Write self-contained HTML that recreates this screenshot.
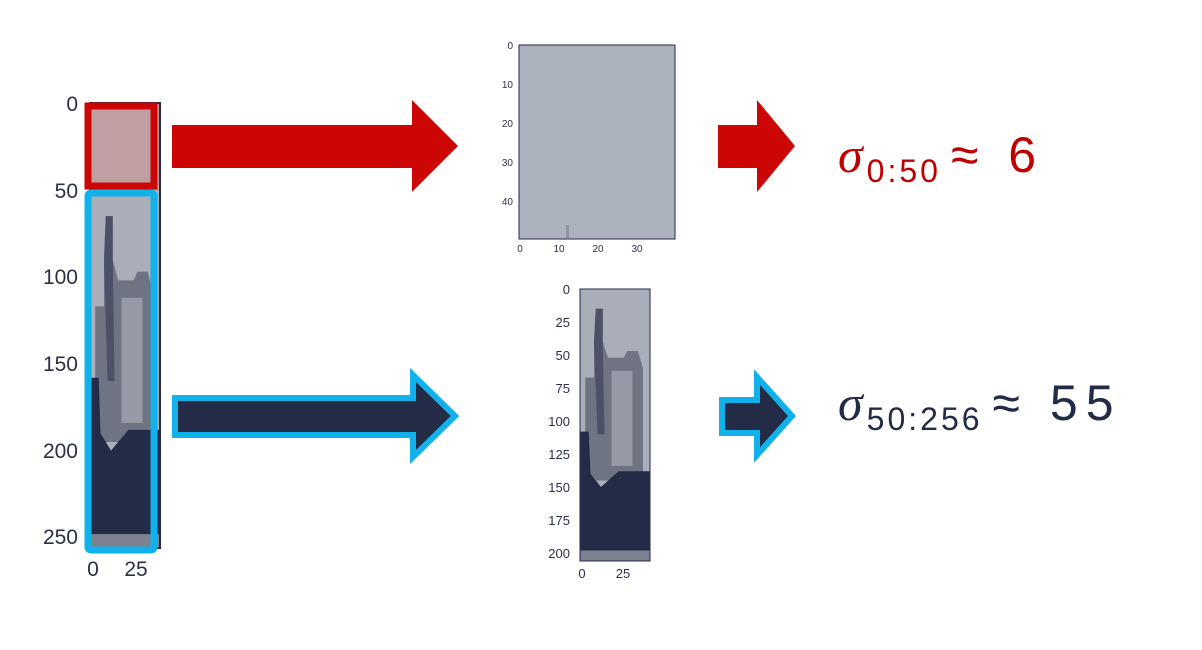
<!DOCTYPE html>
<html><head><meta charset="utf-8"><style>
html,body{margin:0;padding:0;background:#fff;}
svg{display:block;}
text{font-family:"Liberation Sans","DejaVu Sans",sans-serif;}
</style></head><body>
<svg width="1202" height="650" viewBox="0 0 1202 650" xmlns="http://www.w3.org/2000/svg">
<defs>
<g id="bld">
  <rect x="0" y="0" width="40" height="206" fill="#a9aeb9"/>
  <polygon points="3,67 8,67 8,40 9,15 13,15 13,40 16,52 25,52 27,47 33,47 36,60 36,145 3,145" fill="#6f7482"/>
  <rect x="18" y="62" width="12" height="72" fill="#959aa6"/>
  <polygon points="8,40 9,15 13,15 13,40 14,110 10,110" fill="#4b5166"/>
  <polygon points="0,108 5,108 6,140 12,150 22,138 40,138 40,206 0,206" fill="#232b47"/>
  <rect x="0" y="198" width="40" height="8" fill="#7d8290"/>
</g>
</defs>

<g>
  <rect x="90" y="103" width="70" height="87" fill="#c19ea2"/>
  <svg x="90" y="190" width="70" height="358" viewBox="0 0 40 206" preserveAspectRatio="none"><use href="#bld"/></svg>
  <rect x="90" y="103" width="70" height="445" fill="none" stroke="#232b47" stroke-width="2"/>
  <g font-size="21" fill="#2a3048" text-anchor="end">
    <text x="78" y="111">0</text><text x="78" y="198">50</text><text x="78" y="284">100</text>
    <text x="78" y="371">150</text><text x="78" y="458">200</text><text x="78" y="544">250</text>
  </g>
  <g font-size="21" fill="#2a3048" text-anchor="middle">
    <text x="93" y="576">0</text><text x="136" y="576">25</text>
  </g>
  <rect x="88" y="106" width="66" height="80" fill="none" stroke="#cc0505" stroke-width="7"/>
  <rect x="88" y="193" width="66" height="357" rx="3" fill="none" stroke="#11b1ec" stroke-width="7"/>
</g>

<polygon points="172,125 412,125 412,100 458,146 412,192 412,168 172,168" fill="#cc0505"/>
<polygon points="175,398 413,398 413,375 455,416 413,457 413,435 175,435" fill="#232b47" stroke="#11b1ec" stroke-width="6" stroke-linejoin="miter"/>
<polygon points="718,125 757,125 757,100 795,146 757,192 757,168 718,168" fill="#cc0505"/>
<polygon points="722,400 757,400 757,377 792,416 757,455 757,433 722,433" fill="#232b47" stroke="#11b1ec" stroke-width="6"/>

<g>
  <rect x="519" y="45" width="156" height="194" fill="#acb2bd" stroke="#232b47" stroke-width="1"/>
  <g font-size="10" fill="#2a3048" text-anchor="end">
    <text x="513" y="49">0</text><text x="513" y="88">10</text><text x="513" y="127">20</text>
    <text x="513" y="166">30</text><text x="513" y="205">40</text>
  </g>
  <g font-size="10" fill="#2a3048" text-anchor="middle">
    <text x="520" y="252">0</text><text x="559" y="252">10</text><text x="598" y="252">20</text><text x="637" y="252">30</text>
  </g>
  <rect x="566" y="225" width="3" height="13" fill="#8d93a0"/>
</g>

<g>
  <svg x="580" y="289" width="70" height="272" viewBox="0 0 40 206" preserveAspectRatio="none"><use href="#bld"/></svg>
  <rect x="580" y="289" width="70" height="272" fill="none" stroke="#232b47" stroke-width="1"/>
  <g font-size="13" fill="#2a3048" text-anchor="end">
    <text x="570" y="294">0</text><text x="570" y="327">25</text><text x="570" y="360">50</text>
    <text x="570" y="393">75</text><text x="570" y="426">100</text><text x="570" y="459">125</text>
    <text x="570" y="492">150</text><text x="570" y="525">175</text><text x="570" y="558">200</text>
  </g>
  <g font-size="13" fill="#2a3048" text-anchor="middle">
    <text x="582" y="578">0</text><text x="623" y="578">25</text>
  </g>
</g>

<text x="838" y="172" font-size="50" fill="#c00000"><tspan font-style="italic" font-family="'Liberation Serif',serif">σ</tspan><tspan font-size="32" dx="4" dy="10" letter-spacing="3">0:50</tspan><tspan dx="10" dy="-10" letter-spacing="8">≈ 6</tspan></text>
<text x="838" y="420" font-size="50" fill="#232b47"><tspan font-style="italic" font-family="'Liberation Serif',serif">σ</tspan><tspan font-size="32" dx="4" dy="10" letter-spacing="3">50:256</tspan><tspan dx="10" dy="-10" letter-spacing="8">≈ 55</tspan></text>
</svg>
</body></html>
